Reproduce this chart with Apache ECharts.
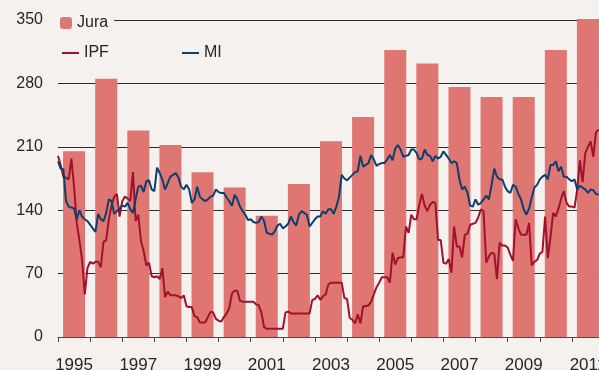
<!DOCTYPE html>
<html>
<head>
<meta charset="utf-8">
<script src="https://cdn.jsdelivr.net/npm/echarts@6/dist/echarts.min.js"></script>
<style>
  html, body { margin: 0; padding: 0; background: #f4f1ee; }
  #chart { width: 599px; height: 370px; }
</style>
</head>
<body>
<div id="chart"></div>
<script>
// Yearly bars
const years = ['1995','1996','1997','1998','1999','2000','2001','2002','2003',
               '2004','2005','2006','2007','2008','2009','2010','2011'];
const jura = [205, 285, 228, 212, 182, 165, 134, 169, 216, 243, 317, 302, 276, 265, 265, 317, 351];

// Monthly series, first value = January 1995
const startYear = 1995;
const ipf = [
  200,190,177,176,174,197,166,126,107,85,
  47,76,83,81,83,83,77,105,107,130,
  145,155,158,133,150,155,153,150,182,128,
  135,106,95,79,82,67,66,67,64,76,
  44,50,46,46,46,45,43,46,34,33,
  33,23,22,16,16,16,22,28,27,20,
  18,17,22,26,32,48,51,51,40,39,
  39,39,39,39,36,35,27,11,9,9,
  9,9,9,9,9,27,28,26,26,26,
  26,26,26,26,26,41,42,46,41,45,
  47,58,60,60,60,60,60,43,42,21,
  19,15,25,15,34,34,35,39,47,55,
  60,66,66,66,60,93,80,87,88,88,
  122,115,135,130,130,146,158,145,139,146,
  149,148,107,107,82,81,86,71,122,100,
  100,88,113,114,124,125,126,132,141,139,
  82,89,93,92,64,104,101,101,99,91,
  84,130,120,113,113,113,126,79,83,85,
  92,94,133,87,110,137,133,142,153,161,
  148,144,144,143,163,195,171,203,210,216,
  199,226,229
];
const mi = [
  194,186,185,150,144,143,142,130,140,133,
  130,128,124,120,116,136,130,128,137,152,
  150,136,139,142,145,144,148,141,137,152,
  166,167,160,172,173,163,161,187,181,174,
  163,170,177,179,181,176,166,163,168,163,
  148,152,166,155,152,150,152,155,156,163,
  160,159,159,154,150,145,157,152,144,139,
  135,129,130,127,126,127,133,128,115,114,
  113,117,123,125,120,122,125,133,127,123,
  135,139,137,135,122,126,130,133,133,139,
  136,141,141,136,144,155,179,175,173,176,
  179,182,183,200,188,190,192,201,196,189,
  191,192,192,196,201,195,208,212,207,199,
  200,201,207,207,203,196,197,207,201,200,
  194,200,197,199,205,201,197,192,194,192,
  174,163,166,159,145,144,152,146,148,152,
  156,152,168,186,177,174,174,166,161,159,
  168,166,158,152,141,135,142,154,165,168,
  174,177,179,174,190,190,194,183,188,177,
  177,174,172,174,163,167,165,163,159,163,
  162,158,157
];

// Value axis ticks
const yMin = 0, yMax = 350, yStep = 70;

const BG = '#f4f1ee';
const TEXT = '#262626';
const FONT = 'Liberation Sans, Arial, sans-serif';
const RED = '#a1112f';
const BLUE = '#0d3f6d';

const toPoints = arr => arr.map((v, i) => [i, v]);
const monthSpan = years.length * 12;

const chart = echarts.init(document.getElementById('chart'), null, { renderer: 'canvas' });
chart.setOption({
  backgroundColor: BG,
  animation: false,
  textStyle: { fontFamily: FONT },
  grid: { left: 58, right: -5, top: 20, bottom: 33, outerBoundsMode: 'none' },
  legend: [
    {
      data: ['Jura'], left: 55, top: 10, padding: [5, 6, 5, 5],
      backgroundColor: BG, itemWidth: 12, itemHeight: 12,
      textStyle: { fontSize: 16, color: TEXT, fontFamily: FONT }
    },
    {
      data: [{ name: 'IPF', icon: 'rect' }], left: 57, top: 40, itemWidth: 17, itemHeight: 2,
      textStyle: { fontSize: 16, color: TEXT, fontFamily: FONT }
    },
    {
      data: [{ name: 'MI', icon: 'rect' }], left: 177, top: 40, itemWidth: 17, itemHeight: 2,
      textStyle: { fontSize: 16, color: TEXT, fontFamily: FONT }
    }
  ],
  xAxis: [
    {
      type: 'category', data: years, boundaryGap: true,
      axisLine: { lineStyle: { color: '#4a4a4a', width: 1 } },
      axisTick: { show: true, interval: 0, length: 5, lineStyle: { color: '#4a4a4a' } },
      axisLabel: { interval: 1, margin: 20, fontSize: 17, color: TEXT, fontFamily: FONT },
      splitLine: { show: false }
    },
    {
      type: 'value', min: 0, max: monthSpan, show: false,
      splitLine: { show: false }
    }
  ],
  yAxis: {
    type: 'value', min: yMin, max: yMax, interval: yStep,
    axisLine: { show: false }, axisTick: { show: false },
    axisLabel: { margin: 15, fontSize: 16, color: TEXT, fontFamily: FONT, padding: [4, 0, 0, 0] },
    splitLine: { lineStyle: { color: '#2a2a2a', width: 1 } }
  },
  series: [
    {
      name: 'Jura', type: 'bar', xAxisIndex: 0, data: jura,
      barWidth: 22, clip: false,
      itemStyle: { color: '#e07672' }
    },
    {
      name: 'IPF', type: 'line', xAxisIndex: 1, data: toPoints(ipf),
      symbol: 'none', showSymbol: false,
      lineStyle: { color: RED, width: 2 }, itemStyle: { color: RED }
    },
    {
      name: 'MI', type: 'line', xAxisIndex: 1, data: toPoints(mi),
      symbol: 'none', showSymbol: false,
      lineStyle: { color: BLUE, width: 2 }, itemStyle: { color: BLUE }
    }
  ]
});
</script>
</body>
</html>
